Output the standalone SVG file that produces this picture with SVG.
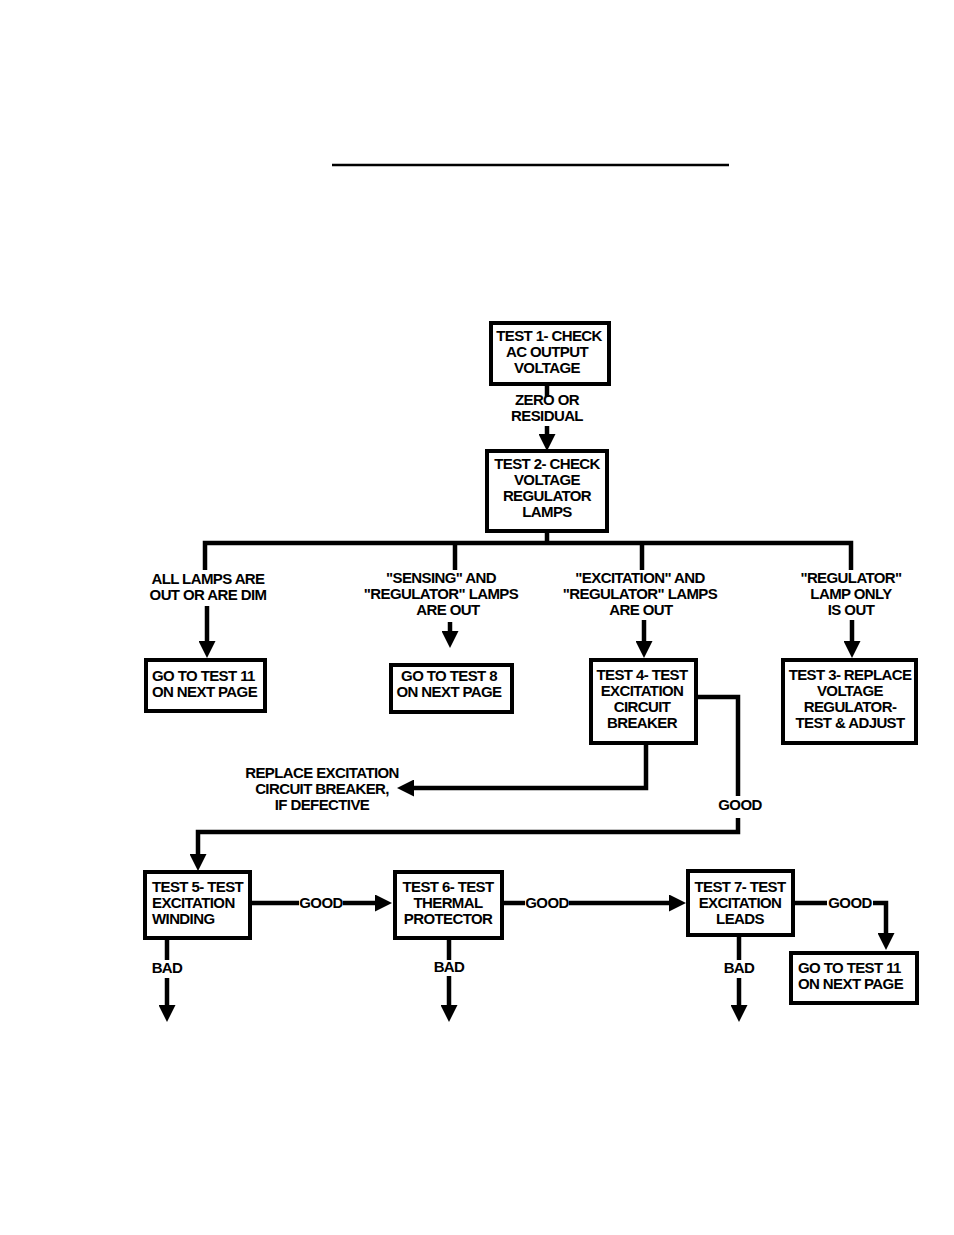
<svg xmlns="http://www.w3.org/2000/svg" width="954" height="1235" viewBox="0 0 954 1235">
<style>
text{font-family:"Liberation Sans",Arial,sans-serif;font-weight:bold;font-size:15px;fill:#000;letter-spacing:-0.6px}
.c{text-anchor:middle}
.box{fill:#fff;stroke:#000;stroke-width:4}
.ln{fill:none;stroke:#000;stroke-width:4.5;stroke-linejoin:miter}
</style>
<defs>
<marker id="ah" viewBox="0 0 10 10" refX="0" refY="5" markerWidth="17" markerHeight="17" markerUnits="userSpaceOnUse" orient="auto">
<path d="M0,0 L10,5 L0,10 z" fill="#000"/>
</marker>
</defs>
<rect width="954" height="1235" fill="#fff"/>
<line x1="332" y1="165" x2="729" y2="165" stroke="#000" stroke-width="2.5"/>

<g id="connectors">
<path class="ln" d="M547,384 V397"/>
<path class="ln" d="M547,426 V434" marker-end="url(#ah)"/>
<path class="ln" d="M547,531 V543 M205,570 V543 H851 V570 M455,543 V570 M642,543 V570"/>
<path class="ln" d="M207,606 V641" marker-end="url(#ah)"/>
<path class="ln" d="M450,622 V631" marker-end="url(#ah)"/>
<path class="ln" d="M644,620 V641" marker-end="url(#ah)"/>
<path class="ln" d="M852,620 V641" marker-end="url(#ah)"/>
<path class="ln" d="M696,697 H738 V796"/>
<path class="ln" d="M738,818 V832 H198 V854" marker-end="url(#ah)"/>
<path class="ln" d="M646,743 V788 H414" marker-end="url(#ah)"/>
<path class="ln" d="M250,903 H299"/>
<path class="ln" d="M343,903 H375" marker-end="url(#ah)"/>
<path class="ln" d="M502,903 H525"/>
<path class="ln" d="M569,903 H669" marker-end="url(#ah)"/>
<path class="ln" d="M793,903 H827"/>
<path class="ln" d="M873,903 H886 V933" marker-end="url(#ah)"/>
<path class="ln" d="M167,938 V960"/>
<path class="ln" d="M167,978 V1005" marker-end="url(#ah)"/>
<path class="ln" d="M449,938 V960"/>
<path class="ln" d="M449,976 V1005" marker-end="url(#ah)"/>
<path class="ln" d="M739,935 V960"/>
<path class="ln" d="M739,978 V1005" marker-end="url(#ah)"/>
</g>

<g id="labels">
<text class="c" x="547" y="405">ZERO OR</text>
<text class="c" x="547" y="421">RESIDUAL</text>
<text class="c" x="208" y="584">ALL LAMPS ARE</text>
<text class="c" x="208" y="600">OUT OR ARE DIM</text>
<text class="c" x="441" y="583">"SENSING" AND</text>
<text class="c" x="441" y="599">"REGULATOR" LAMPS</text>
<text class="c" x="448" y="615">ARE OUT</text>
<text class="c" x="640" y="583">"EXCITATION" AND</text>
<text class="c" x="640" y="599">"REGULATOR" LAMPS</text>
<text class="c" x="641" y="615">ARE OUT</text>
<text class="c" x="851" y="583">"REGULATOR"</text>
<text class="c" x="851" y="599">LAMP ONLY</text>
<text class="c" x="851" y="615">IS OUT</text>
<text class="c" x="322" y="778">REPLACE EXCITATION</text>
<text class="c" x="322" y="794">CIRCUIT BREAKER,</text>
<text class="c" x="322" y="810">IF DEFECTIVE</text>
<text class="c" x="740" y="810">GOOD</text>
<text class="c" x="321" y="908">GOOD</text>
<text class="c" x="547" y="908">GOOD</text>
<text class="c" x="850" y="908">GOOD</text>
<text class="c" x="167" y="973">BAD</text>
<text class="c" x="449" y="972">BAD</text>
<text class="c" x="739" y="973">BAD</text>
</g>

<g id="test1">
<rect class="box" x="491" y="323" width="118" height="61"/>
<text class="c" x="549" y="341">TEST 1- CHECK</text>
<text class="c" x="547" y="357">AC OUTPUT</text>
<text class="c" x="547" y="373">VOLTAGE</text>
</g>
<g id="test2">
<rect class="box" x="487" y="451" width="120" height="80"/>
<text class="c" x="547" y="469">TEST 2- CHECK</text>
<text class="c" x="547" y="485">VOLTAGE</text>
<text class="c" x="547" y="501">REGULATOR</text>
<text class="c" x="547" y="517">LAMPS</text>
</g>
<g id="goto11a">
<rect class="box" x="146" y="660" width="119" height="51"/>
<text x="152" y="681">GO TO TEST 11</text>
<text x="152" y="697">ON NEXT PAGE</text>
</g>
<g id="goto8">
<rect class="box" x="391" y="665" width="121" height="47"/>
<text class="c" x="449" y="681">GO TO TEST 8</text>
<text class="c" x="449" y="697">ON NEXT PAGE</text>
</g>
<g id="test4">
<rect class="box" x="591" y="660" width="105" height="83"/>
<text class="c" x="642" y="680">TEST 4- TEST</text>
<text class="c" x="642" y="696">EXCITATION</text>
<text class="c" x="642" y="712">CIRCUIT</text>
<text class="c" x="642" y="728">BREAKER</text>
</g>
<g id="test3">
<rect class="box" x="783" y="660" width="133" height="83"/>
<text class="c" x="850" y="680">TEST 3- REPLACE</text>
<text class="c" x="850" y="696">VOLTAGE</text>
<text class="c" x="850" y="712">REGULATOR-</text>
<text class="c" x="850" y="728">TEST &amp; ADJUST</text>
</g>
<g id="test5">
<rect class="box" x="145" y="872" width="105" height="66"/>
<text x="152" y="892">TEST 5- TEST</text>
<text x="152" y="908">EXCITATION</text>
<text x="152" y="924">WINDING</text>
</g>
<g id="test6">
<rect class="box" x="395" y="872" width="107" height="66"/>
<text class="c" x="448" y="892">TEST 6- TEST</text>
<text class="c" x="448" y="908">THERMAL</text>
<text class="c" x="448" y="924">PROTECTOR</text>
</g>
<g id="test7">
<rect class="box" x="688" y="871" width="105" height="64"/>
<text class="c" x="740" y="892">TEST 7- TEST</text>
<text class="c" x="740" y="908">EXCITATION</text>
<text class="c" x="740" y="924">LEADS</text>
</g>
<g id="goto11b">
<rect class="box" x="791" y="953" width="126" height="50"/>
<text x="798" y="973">GO TO TEST 11</text>
<text x="798" y="989">ON NEXT PAGE</text>
</g>
</svg>
